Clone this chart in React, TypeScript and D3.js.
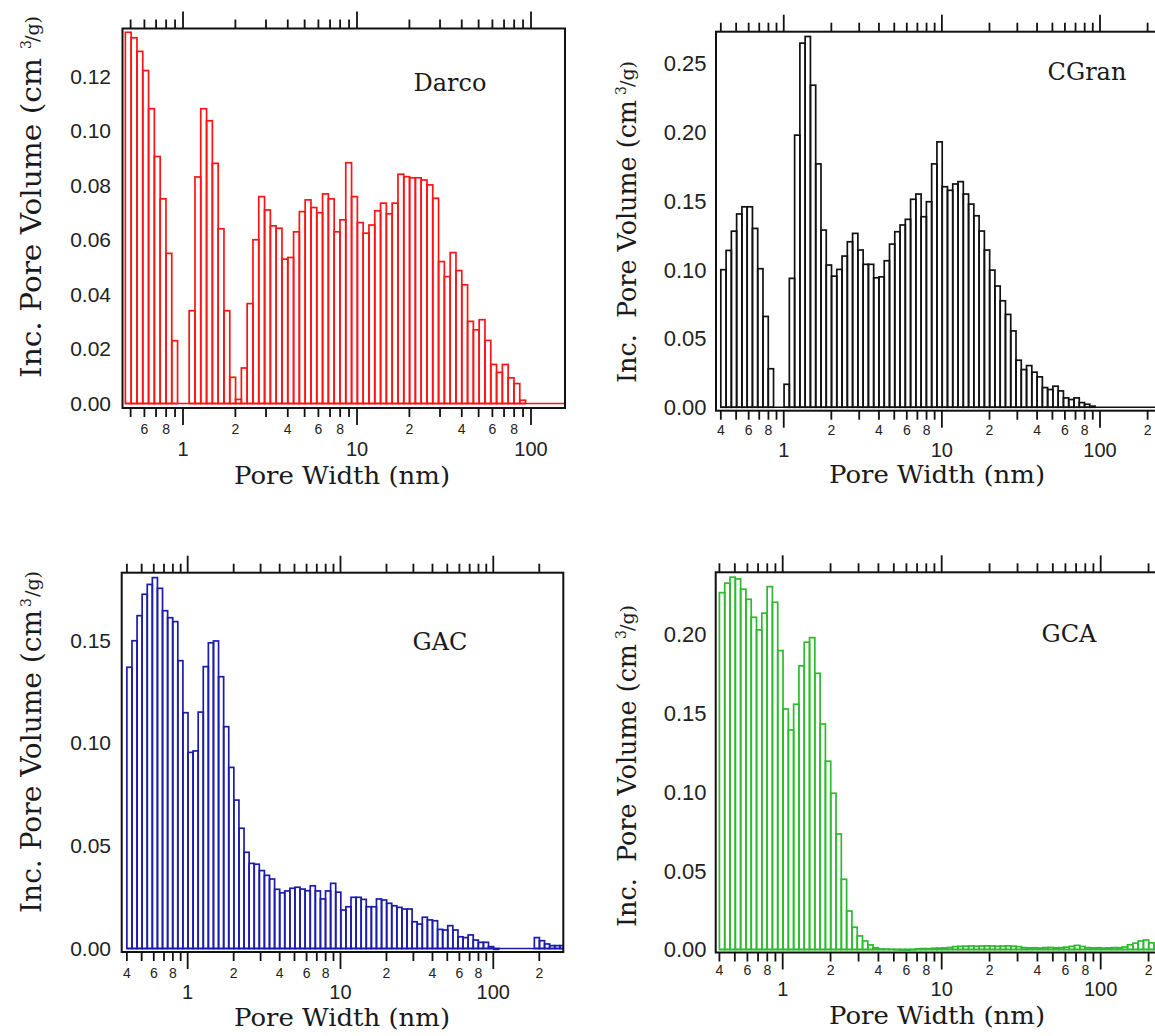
import * as d3 from "d3";

// DFT pore size distributions, incremental pore volume (cm3/g) per bin.
// Bins are log spaced, 30 per decade, first bin edge at 0.4 nm.
const BIN_START = 0.4;
const BINS_PER_DECADE = 30;

const darcoFirstBin = 2;
const darcoVolume = [
  0.136, 0.134, 0.129, 0.122, 0.108, 0.0905, 0.075, 0.055, 0.023,
  0, 0,
  0.034, 0.083, 0.108, 0.1036, 0.088, 0.064, 0.034, 0.0096, 0.0015, 0.013,
  0.0366, 0.06, 0.0758, 0.0709, 0.0651, 0.0642, 0.0529, 0.0535, 0.0629, 0.0703,
  0.0746, 0.0718, 0.0699, 0.0768, 0.075, 0.0629, 0.0673, 0.0882, 0.0758, 0.0663,
  0.0624, 0.0654, 0.0706, 0.0734, 0.0695, 0.0734, 0.084, 0.0831, 0.0827, 0.0827,
  0.0819, 0.0801, 0.0752, 0.052, 0.0465, 0.0553, 0.0487, 0.0435, 0.0301, 0.027,
  0.0307, 0.0231, 0.0143, 0.0114, 0.0143, 0.0094, 0.0073, 0.0012,
];

const cgranFirstBin = 0;
const cgranVolume = [
  0.1, 0.114, 0.128, 0.1405, 0.1457, 0.1457, 0.13, 0.1007, 0.066, 0.028,
  0, 0,
  0.0167, 0.0937, 0.1978, 0.2647, 0.2695, 0.2341, 0.1769, 0.1288, 0.1034, 0.0953,
  0.1002, 0.1099, 0.1203, 0.1264, 0.1143, 0.1039, 0.1039, 0.0941, 0.0948, 0.1065,
  0.1186, 0.1276, 0.1325, 0.1366, 0.1512, 0.155, 0.1385, 0.1494, 0.1769, 0.1929,
  0.1603, 0.1577, 0.1623, 0.164, 0.155, 0.1477, 0.1392, 0.1281, 0.1143, 0.0997,
  0.0881, 0.0774, 0.0675, 0.0555, 0.0342, 0.0274, 0.0303, 0.0255, 0.0221, 0.0143,
  0.0129, 0.0153, 0.0119, 0.0068, 0.0056, 0.0068, 0.0034, 0.0022, 0.0008,
];

const gacFirstBin = 0;
const gacVolume = [
  0.1368, 0.1497, 0.1619, 0.1723, 0.1771, 0.1804, 0.1752, 0.1643, 0.1609, 0.159,
  0.14, 0.1147, 0.0954, 0.0961, 0.115, 0.1371, 0.1487, 0.1496, 0.1322, 0.1079,
  0.0881, 0.0722, 0.0585, 0.0468, 0.0414, 0.041, 0.0379, 0.0356, 0.0338, 0.0288,
  0.0271, 0.028, 0.0293, 0.0298, 0.0289, 0.0281, 0.0305, 0.028, 0.0241, 0.028,
  0.0317, 0.0274, 0.0187, 0.0203, 0.0249, 0.0249, 0.0239, 0.0203, 0.0203, 0.0241,
  0.0236, 0.022, 0.0208, 0.02, 0.0192, 0.0192, 0.013, 0.0119, 0.0152, 0.0139,
  0.0135, 0.0093, 0.009, 0.0111, 0.009, 0.0057, 0.0053, 0.0066, 0.0041, 0.003,
  0.003, 0.0009, -0.0004,
  0, 0, 0, 0, 0, 0, 0,
  0.0053, 0.0038, 0.0022, 0.0014, 0.0014, 0.0014,
];

const gcaFirstBin = 0;
const gcaVolume = [
  0.2261, 0.2321, 0.2359, 0.2348, 0.2283, 0.2219, 0.2105, 0.2025, 0.2131, 0.2299,
  0.22, 0.1894, 0.1524, 0.1391, 0.1554, 0.1797, 0.1947, 0.1976, 0.175, 0.1429,
  0.1193, 0.099, 0.0732, 0.0445, 0.0244, 0.0141, 0.0086, 0.0054, 0.0029, 0.0011,
  0.0003, 0.0002, 0.0001, -0.0002, -0.0003, -0.0004, -0.0002, 0.0004, 0.0006, 0.0005,
  0.0008, 0.0009, 0.001, 0.0013, 0.0018, 0.002, 0.0021, 0.0022, 0.0021, 0.0022,
  0.0023, 0.0022, 0.0021, 0.0022, 0.0023, 0.0021, 0.0018, 0.0012, 0.001, 0.0011,
  0.0009, 0.0012, 0.0013, 0.0011, 0.0012, 0.0015, 0.002, 0.0026, 0.0019, 0.0012,
  0.001, 0.0011, 0.0009, 0.001, 0.0012, 0.0011, 0.0016, 0.003, 0.004, 0.0054,
  0.006, 0.0042, 0.003, 0.002,
];

// axis extents (pore width nm, volume cm3/g) and y tick values
const darcoXDomain = [0.449, 156.8];
const darcoYDomain = [-0.00165, 0.1374];
const darcoYTicks = [0, 0.02, 0.04, 0.06, 0.08, 0.1, 0.12];

const cgranXDomain = [0.3729, 298];
const cgranYDomain = [-0.0025, 0.273];
const cgranYTicks = [0, 0.05, 0.1, 0.15, 0.2, 0.25];

const gacXDomain = [0.37, 287.2];
const gacYDomain = [-0.0017, 0.1828];
const gacYTicks = [0, 0.05, 0.1, 0.15];

const gcaXDomain = [0.379, 297.6];
const gcaYDomain = [-0.0019, 0.239];
const gcaYTicks = [0, 0.05, 0.1, 0.15, 0.2];

const SANS = "'Liberation Sans', Arial, sans-serif";
const SERIF = "'DejaVu Serif', serif";

type Layout = {
  box: { left: number; right: number; top: number; bottom: number };
  yLabelRight: number;
  yLabelSize: number;
  minorBase: number;
  majorBase: number;
  xTitle: [number, number];
  nameAt: [number, number];
  yTitle: { x: number; y: number; len: number; fs: number; supX: number; supY: number; gX: number; gY: number; text: string };
};

const panels = [
  {
    name: "Darco", color: "#ff1414", volume: darcoVolume, firstBin: darcoFirstBin,
    xDomain: darcoXDomain, yDomain: darcoYDomain, yTicks: darcoYTicks,
    layout: {
      box: { left: 122.5, right: 565, top: 28.5, bottom: 408 },
      yLabelRight: 111, yLabelSize: 21, minorBase: 434, majorBase: 456,
      xTitle: [342, 484], nameAt: [450, 91],
      yTitle: { x: 41, y: 378, len: 320, fs: 28, supX: 31, supY: 49, gX: 39, gY: 42, text: "Inc. Pore Volume (cm" },
    } as Layout,
  },
  {
    name: "CGran", color: "#111111", volume: cgranVolume, firstBin: cgranFirstBin,
    xDomain: cgranXDomain, yDomain: cgranYDomain, yTicks: cgranYTicks,
    layout: {
      box: { left: 716, right: 1175, top: 31.7, bottom: 410.7 },
      yLabelRight: 706.5, yLabelSize: 22, minorBase: 435, majorBase: 457,
      xTitle: [937, 483], nameAt: [1087, 80],
      yTitle: { x: 636, y: 383, len: 283, fs: 26, supX: 626, supY: 95, gX: 634, gY: 87, text: "Inc.  Pore Volume (cm" },
    } as Layout,
  },
  {
    name: "GAC", color: "#1c1caa", volume: gacVolume, firstBin: gacFirstBin,
    xDomain: gacXDomain, yDomain: gacYDomain, yTicks: gacYTicks,
    layout: {
      box: { left: 121.7, right: 563.3, top: 572.7, bottom: 952 },
      yLabelRight: 111, yLabelSize: 21, minorBase: 978, majorBase: 999,
      xTitle: [342, 1026], nameAt: [440, 650],
      yTitle: { x: 41, y: 913, len: 303, fs: 28, supX: 31, supY: 607, gX: 39, gY: 597, text: "Inc. Pore Volume (cm" },
    } as Layout,
  },
  {
    name: "GCA", color: "#2cbb2c", volume: gcaVolume, firstBin: gcaFirstBin,
    xDomain: gcaXDomain, yDomain: gcaYDomain, yTicks: gcaYTicks,
    layout: {
      box: { left: 715.7, right: 1176, top: 572.3, bottom: 952.5 },
      yLabelRight: 706.5, yLabelSize: 22, minorBase: 975, majorBase: 996,
      xTitle: [937, 1024], nameAt: [1069, 642],
      yTitle: { x: 636, y: 927, len: 283, fs: 26, supX: 626, supY: 639, gX: 634, gY: 631, text: "Inc.  Pore Volume (cm" },
    } as Layout,
  },
];

function Panel({ p }: { p: (typeof panels)[number] }) {
  const L = p.layout;
  const b = L.box;
  const x = d3.scaleLog().domain(p.xDomain).range([b.left, b.right]);
  const y = d3.scaleLinear().domain(p.yDomain).range([b.bottom, b.top]);
  const clipId = `clip-${p.name}`;

  const bins = p.volume.map((v, i) => {
    const k = p.firstBin + i;
    return {
      lo: BIN_START * Math.pow(10, k / BINS_PER_DECADE),
      hi: BIN_START * Math.pow(10, (k + 1) / BINS_PER_DECADE),
      v,
    };
  });

  const ticks: { v: number; m: number }[] = [];
  for (let e = -1; e <= 2; e++) {
    for (let m = 1; m <= 9; m++) {
      const v = m * Math.pow(10, e);
      if (v >= p.xDomain[0] && v <= p.xDomain[1]) ticks.push({ v, m });
    }
  }
  const fmtY = d3.format(".2f");
  const t = L.yTitle;

  return (
    <g>
      <defs>
        <clipPath id={clipId}>
          <rect x={b.left} y={b.top} width={b.right - b.left} height={b.bottom - b.top} />
        </clipPath>
      </defs>
      <g clipPath={`url(#${clipId})`} fill="none" stroke={p.color} strokeWidth={1.7}>
        <line x1={x(bins[0].lo)} x2={b.right} y1={y(0)} y2={y(0)} />
        {bins.filter(d => d.v !== 0).map((d, i) => (
          <rect key={i} x={x(d.lo)} width={x(d.hi) - x(d.lo)}
            y={Math.min(y(d.v), y(0))} height={Math.abs(y(d.v) - y(0))} />
        ))}
      </g>
      <rect x={b.left} y={b.top} width={b.right - b.left} height={b.bottom - b.top}
        fill="none" stroke="#111" strokeWidth={2} />
      <g stroke="#111" strokeWidth={1.8}>
        {ticks.map(d => {
          const len = d.m === 1 ? 17 : 9;
          return (
            <g key={d.v}>
              <line x1={x(d.v)} x2={x(d.v)} y1={b.bottom} y2={b.bottom + len} />
              <line x1={x(d.v)} x2={x(d.v)} y1={b.top} y2={b.top - len} />
            </g>
          );
        })}
      </g>
      <g fontFamily={SANS} textAnchor="middle" fill="#222">
        {ticks.filter(d => d.m % 2 === 0).map(d => (
          <text key={d.v} x={x(d.v)} y={L.minorBase} fontSize={14}>{d.m}</text>
        ))}
        {ticks.filter(d => d.m === 1 && d.v >= 1).map(d => (
          <text key={d.v} x={x(d.v)} y={L.majorBase} fontSize={20}>{d3.format("d")(d.v)}</text>
        ))}
      </g>
      <g fontFamily={SANS} textAnchor="end" fill="#222" fontSize={L.yLabelSize}>
        {p.yTicks.map(v => (
          <text key={v} x={L.yLabelRight} y={y(v) + L.yLabelSize * 0.36}>{fmtY(v)}</text>
        ))}
      </g>
      <g fontFamily={SERIF} fill="#1a1a1a">
        <text x={L.xTitle[0]} y={L.xTitle[1]} fontSize={24} textAnchor="middle"
          textLength={216} lengthAdjust="spacingAndGlyphs">Pore Width (nm)</text>
        <text x={L.nameAt[0]} y={L.nameAt[1]} fontSize={24} textAnchor="middle">{p.name}</text>
        <text transform={`translate(${t.x},${t.y}) rotate(-90)`} fontSize={t.fs}
          textLength={t.len} lengthAdjust="spacingAndGlyphs" style={{ whiteSpace: "pre" }}>{t.text}</text>
        <text transform={`translate(${t.supX},${t.supY}) rotate(-90)`} fontSize={14}>3</text>
        <text transform={`translate(${t.gX},${t.gY}) rotate(-90)`} fontSize={19}>/g)</text>
      </g>
    </g>
  );
}

export default function App() {
  return (
    <svg width={1155} height={1036} style={{ position: "absolute", left: 0, top: 0, background: "#fff" }}>
      {panels.map(p => <Panel key={p.name} p={p} />)}
    </svg>
  );
}
